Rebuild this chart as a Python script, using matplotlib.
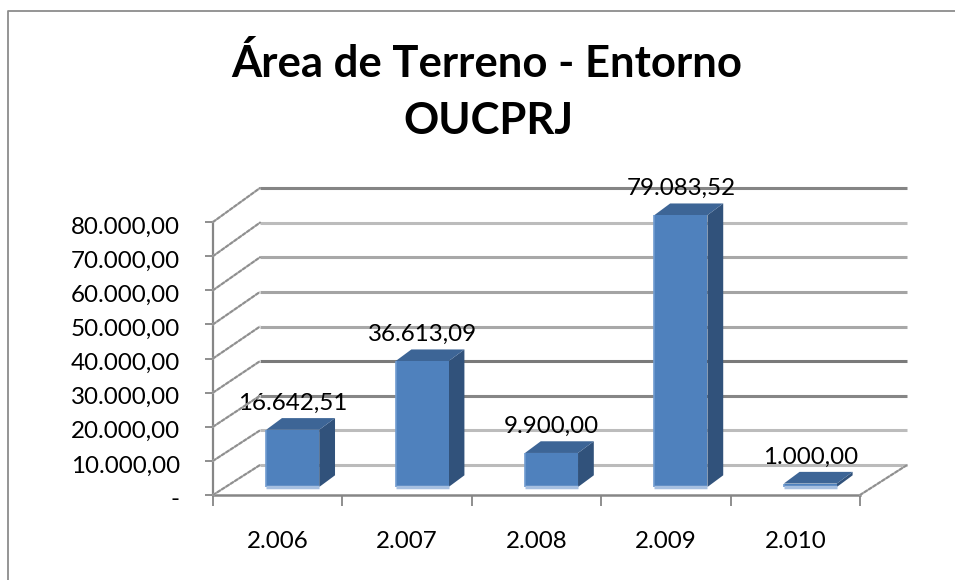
import numpy as np
import matplotlib
matplotlib.use('Agg')
import matplotlib.pyplot as plt
from matplotlib.patches import ConnectionPatch
from matplotlib.transforms import ScaledTranslation

# datos
anos = ['2.006', '2.007', '2.008', '2.009', '2.010']
valores = [16642.51, 36613.09, 9900.00, 79083.52, 1000.00]
etiquetas = ['16.642,51', '36.613,09', '9.900,00', '79.083,52', '1.000,00']
ticks_y = [0, 10000, 20000, 30000, 40000, 50000, 60000, 70000, 80000]
ticks_lab = ['-', '10.000,00', '20.000,00', '30.000,00', '40.000,00',
             '50.000,00', '60.000,00', '70.000,00', '80.000,00']
gris_fondo = ['#bbbbbb', '#bcbcbc', '#868686', '#7a7a7a', '#a8a8a8',
              '#a4a4a4', '#a8a8a8', '#bcbcbc', '#858585']

W, H = 955, 580
plt.rcParams['font.family'] = ['Lato', 'DejaVu Sans']

fig = plt.figure(figsize=(W / 100, H / 100), dpi=100)


def ejes(x0, x1, y_abajo, y_arriba):
    ax = fig.add_axes([x0 / W, 1 - y_abajo / H, (x1 - x0) / W, (y_abajo - y_arriba) / H])
    ax.set_xlim(-0.5, 4.5)
    ax.set_ylim(0, 80000)
    ax.patch.set_alpha(0)
    return ax


# marco exterior, solo se ven los lados izquierdo y superior
marco = fig.add_axes([0, 0, 1, 1])
marco.set_xlim(0, W)
marco.set_ylim(H, 0)
marco.axis('off')
marco.plot([8, 8, W], [H, 11, 11], color='#8c8c8c', lw=1.3)

# pared del fondo
fondo = ejes(260, 907, 465, 188)
fondo.axis('off')
for v, c in zip(ticks_y, gris_fondo):
    fondo.plot([-0.5, 4.5], [v, v], color=c, lw=2.2, solid_capstyle='butt', clip_on=False)

# plano frontal, con los ejes
frente = ejes(213, 860, 495, 222)
for s in ['top', 'right']:
    frente.spines[s].set_visible(False)
frente.spines['left'].set_color('#868686')
frente.spines['bottom'].set_color('#868686')
frente.spines['left'].set_linewidth(1.6)
frente.spines['bottom'].set_linewidth(1.8)
frente.set_yticks(ticks_y)
frente.set_yticklabels(ticks_lab, fontsize=17.4, color='black')
frente.tick_params(axis='y', length=6, width=1.3, color='#868686', pad=18)
# las etiquetas del eje y quedan un poco por debajo de su marca
bajar = ScaledTranslation(0, -3 / 100, fig.dpi_scale_trans)
for lab in frente.get_yticklabels():
    lab.set_transform(lab.get_transform() + bajar)
frente.set_xticks(np.arange(-0.5, 5, 1))
frente.set_xticklabels([])
frente.tick_params(axis='x', length=8, width=1.3, color='#868686')
for i, a in enumerate(anos):
    frente.annotate(a, (i, 0), xytext=(0, -33.5), textcoords='offset points', ha='center',
                    va='center', fontsize=17.4)

# lineas de la pared lateral y del suelo
for v in ticks_y:
    for col, estilo in [('#d8d8d8', '-'), ('#8f8f8f', (0, (1.5, 1)))]:
        fig.add_artist(ConnectionPatch((-0.5, v), (-0.5, v), 'data', 'data', axesA=frente, axesB=fondo,
                                       color=col, lw=1.5, ls=estilo))
for col, estilo in [('#d8d8d8', '-'), ('#8f8f8f', (0, (1.5, 1)))]:
    fig.add_artist(ConnectionPatch((4.5, 0), (4.5, 0), 'data', 'data', axesA=frente, axesB=fondo,
                                   color=col, lw=1.5, ls=estilo))

# barras: plano un poco por delante del fondo
barras = ejes(228, 875, 487, 212)
barras.axis('off')
ancho = 0.41
prof_x = 0.122
prof_y = 3400
x = np.arange(len(valores))
for xi, v, et in zip(x, valores, etiquetas):
    iz, de = xi - ancho / 2, xi + ancho / 2
    barras.fill([de, de + prof_x, de + prof_x, de], [0, prof_y, v + prof_y, v],
                color='#31527b', lw=0, clip_on=False)
    barras.fill([iz, iz + prof_x, de + prof_x, de], [v, v + prof_y, v + prof_y, v],
                color='#3d6596', lw=0, clip_on=False)
    barras.bar(xi, v, width=ancho, color='#4f81bd', lw=0)
    barras.plot([iz, iz], [0, v], color='#6f9bd0', lw=1.2, solid_capstyle='butt')
    barras.plot([iz, de], [0, 0], color='#a6bfe0', lw=2.5, solid_capstyle='butt', clip_on=False)
    barras.annotate(et, (xi, v), xytext=(0, 19), textcoords='offset points', ha='center',
                    va='center', fontsize=17.4)

marco.text(487, 77, 'Área de Terreno - Entorno', ha='center', va='baseline', fontsize=31.4,
           fontweight='bold')
marco.text(488, 134, 'OUCPRJ', ha='center', va='baseline', fontsize=31.4, fontweight='bold')

fig.savefig('out.png', dpi=100)
